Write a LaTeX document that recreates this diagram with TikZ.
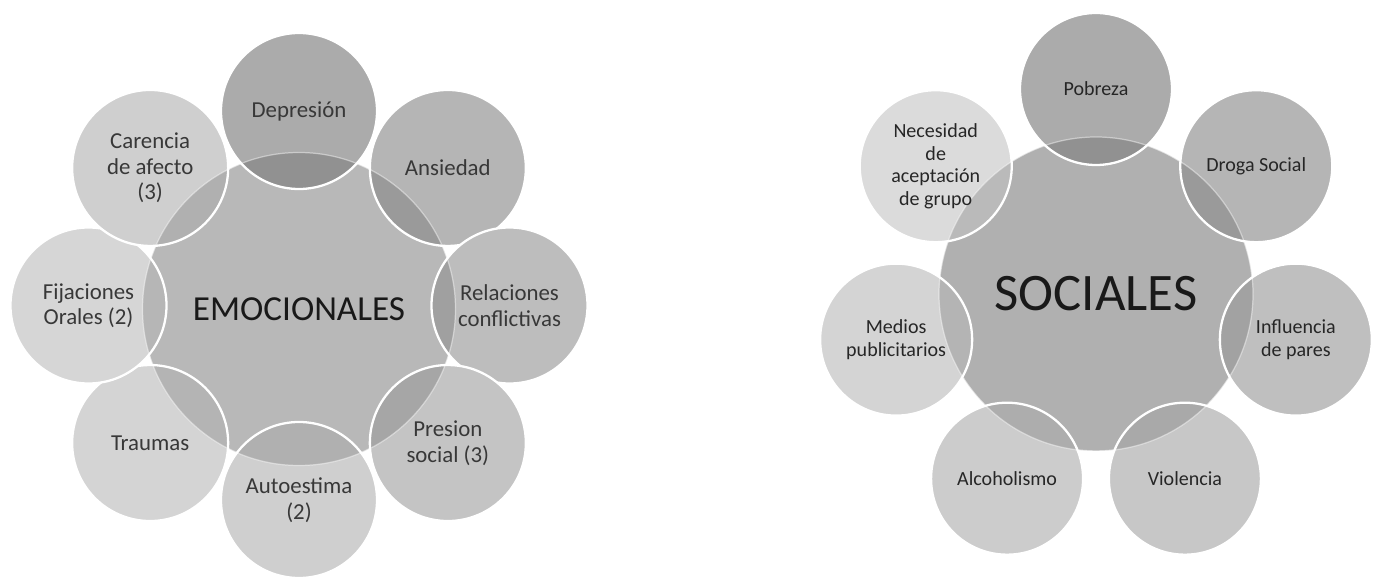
\documentclass[tikz,border=0pt]{standalone}
\usepackage{fontspec}
\setmainfont{Carlito}
\definecolor{emocore}{gray}{0.72}
\definecolor{soccore}{gray}{0.69}
\tikzset{
	core/.style={circle, fill=#1, draw=white, draw opacity=.6, line width=.8pt, text=black!90, align=center},
	petal/.style 2 args={circle, draw=white, line width=1.3pt, align=center,
		path picture={\fill[black, fill opacity=.15] (#1.center) circle (#2);
			\draw[white, opacity=.45, line width=.7pt] (#1.center) circle (#2);}},
	emolabel/.style={font=\fontsize{13}{14.5}\selectfont, text=black!78},
	soclabel/.style={font=\fontsize{11.4}{13}\selectfont, text=black!85}
}
\begin{document}
\begin{tikzpicture}
	\useasboundingbox (0,0) rectangle (27.5,11.6);

	\node[core=emocore, minimum size=6.26cm, font=\fontsize{20}{24}\selectfont] (emo) at (5.98,5.42) {EMOCIONALES};
	\begin{scope}[shift={(5.98,5.49)}, every node/.style={petal={emo}{3.13cm}, minimum size=3.12cm, emolabel}]
		\node[fill=black!33] (depresion) at (90:4.21 and 3.89) {Depresi\'on};
		\node[fill=black!29] (ansiedad) at (45:4.21 and 3.89) {Ansiedad};
		\node[fill=black!26] (relaciones) at (0:4.21 and 3.89) {Relaciones\\conflictivas};
		\node[fill=black!23] (presion) at (-45:4.21 and 3.89) {Presion\\social (3)};
		\node[fill=black!19] (autoestima) at (-90:4.21 and 3.89) {Autoestima\\(2)};
		\node[fill=black!17] (traumas) at (-135:4.21 and 3.89) {Traumas};
		\node[fill=black!16] (fijaciones) at (180:4.21 and 3.89) {Fijaciones\\Orales (2)};
		\node[fill=black!19] (carencia) at (135:4.21 and 3.89) {Carencia\\de afecto\\(3)};
	\end{scope}

	\node[core=soccore, minimum size=6.28cm, font=\fontsize{30}{36}\selectfont] (soc) at (21.92,5.72) {SOCIALES};
	\begin{scope}[shift={(21.92,5.72)}, every node/.style={petal={soc}{3.14cm}, minimum size=3.04cm, soclabel}]
		\node[fill=black!33] (pobreza) at (90:4.1) {Pobreza};
		\node[fill=black!29] (droga) at (38.57:4.1) {Droga Social};
		\node[fill=black!25] (influencia) at (-12.86:4.1) {Influencia\\de pares};
		\node[fill=black!22] (violencia) at (-64.29:4.1) {Violencia};
		\node[fill=black!20] (alcoholismo) at (-115.71:4.1) {Alcoholismo};
		\node[fill=black!17] (medios) at (-167.14:4.1) {Medios\\publicitarios};
		\node[fill=black!14] (necesidad) at (141.43:4.1) {Necesidad\\de\\aceptaci\'on\\de grupo};
	\end{scope}
\end{tikzpicture}
\end{document}
